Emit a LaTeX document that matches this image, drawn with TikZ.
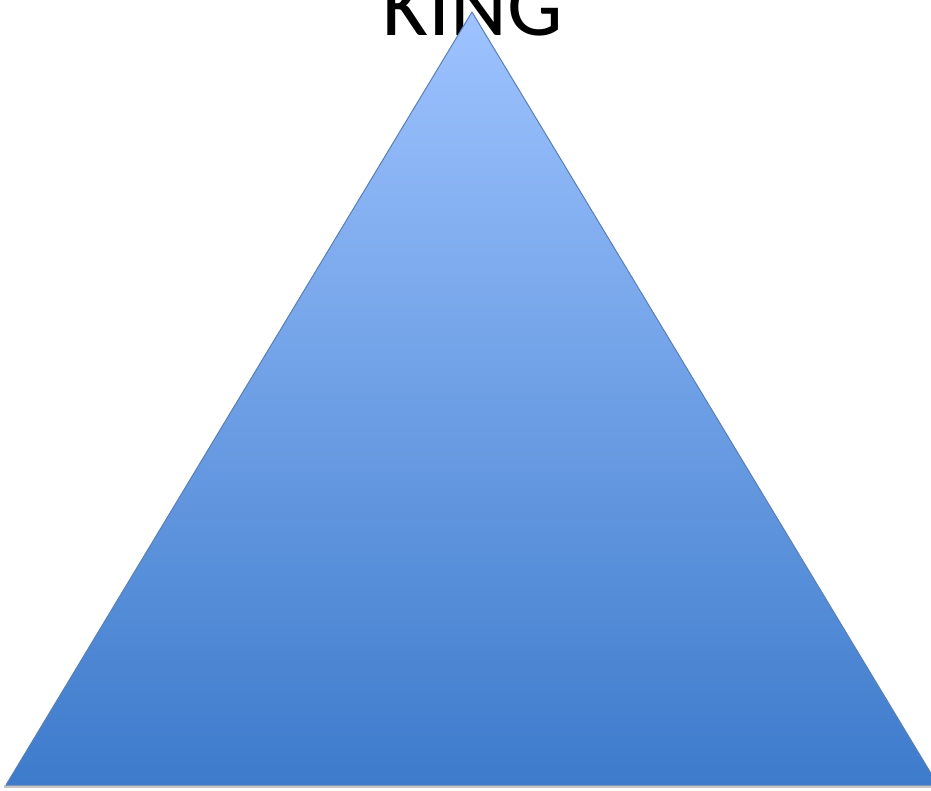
\documentclass[tikz,border=0pt]{standalone}
\usepackage{fontspec}
\setmainfont{Carlito}
\definecolor{topblue}{HTML}{9EC3FF}
\definecolor{botblue}{HTML}{3D7BCB}
\definecolor{edgeblue}{HTML}{5A7FB5}
\begin{document}
\begin{tikzpicture}[x=1pt,y=1pt,
  title/.style={font=\fontsize{88}{88}\selectfont, inner sep=0pt, anchor=base},
  tri/.style={draw=edgeblue, line width=1pt, top color=topblue, bottom color=botblue, line join=round}]
\useasboundingbox (0,0) rectangle (931,790);
\clip (0,0) rectangle (931,790);
\node[title] (king) at (473,754) {KING};
\fill[gray!45] (4,2.5) rectangle (940,5);
\coordinate (apex) at (472,778);
\coordinate (bl) at (6,5);
\coordinate (br) at (938,5);
\path[tri] (apex) -- (bl) -- (br) -- cycle;
\end{tikzpicture}
\end{document}
